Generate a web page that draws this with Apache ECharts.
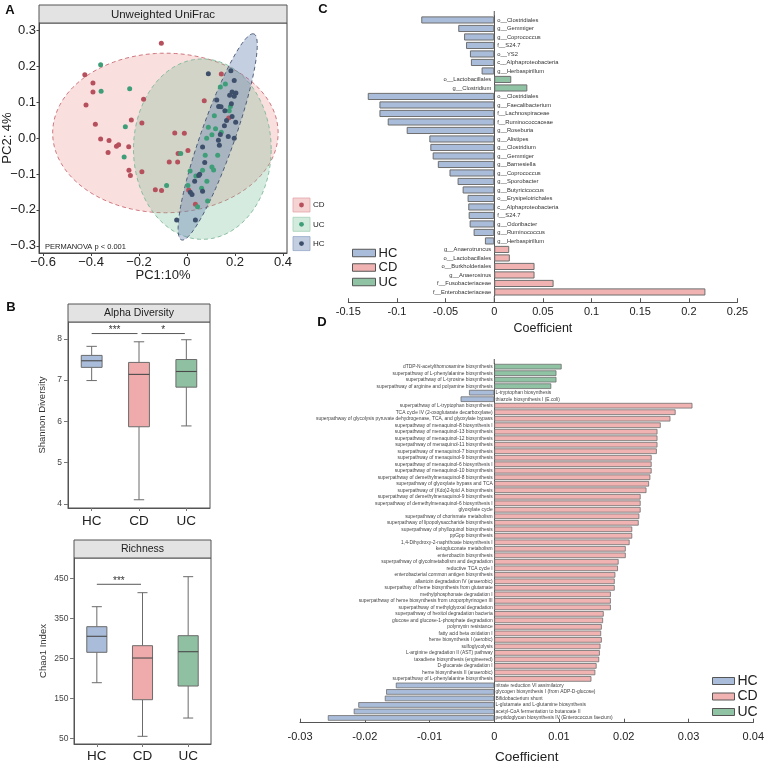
<!DOCTYPE html>
<html><head><meta charset="utf-8">
<script src="https://cdn.jsdelivr.net/npm/echarts@6/dist/echarts.min.js"></script>
<style>html,body{margin:0;padding:0;background:#fff}#c{width:767px;height:765px}</style>
</head><body><div id="c"></div>
<script>
// ================= DATA =================
// Panel A: PCoA (Unweighted UniFrac)
const groupsA = ['CD', 'UC', 'HC'];
const cdPoints = [[-0.107,0.264],[-0.426,0.176],[-0.392,0.153],[-0.392,0.128],[-0.421,0.092],[-0.181,0.108],[-0.382,0.038],[-0.232,0.05],[-0.188,0.042],[-0.36,-0.003],[-0.325,-0.007],[-0.294,-0.023],[-0.285,-0.019],[-0.243,-0.024],[-0.329,-0.04],[-0.242,-0.09],[-0.236,-0.104],[-0.188,-0.094],[-0.051,0.014],[-0.011,0.013],[-0.037,-0.043],[-0.074,-0.067],[-0.039,-0.067],[0.004,-0.035],[-0.132,-0.144],[-0.106,-0.146],[0.072,0.104],[0.143,0.178],[0.174,0.056],[0.007,-0.145],[0.035,-0.184]];
const ucPoints = [[-0.36,0.204],[-0.358,0.13],[-0.239,0.137],[-0.257,0.031],[-0.262,-0.053],[-0.085,-0.132],[-0.026,-0.043],[0.013,-0.092],[0.004,-0.132],[0.037,-0.106],[0.061,-0.14],[0.044,-0.191],[0.086,-0.175],[0.083,-0.12],[0.076,-0.048],[0.082,-0.001],[0.089,0.03],[0.114,0.062],[0.104,0.009],[0.128,-0.048],[0.104,-0.081],[0.111,-0.089],[0.119,0.026],[0.143,0.016],[0.135,0.088],[0.139,0.142],[0.16,0.15],[0.176,0.076],[0.181,0.088],[0.065,-0.09]];
const hcPoints = [[0.089,0.179],[0.183,0.187],[0.197,0.16],[0.188,0.128],[0.204,0.125],[0.197,0.116],[0.178,0.119],[0.124,0.106],[0.132,0.088],[0.142,0.087],[0.185,0.095],[0.158,0.076],[0.188,0.06],[0.165,0.049],[0.203,0.044],[0.156,0.034],[0.172,0.004],[0.197,-0.001],[0.139,0.01],[0.131,-0.006],[0.135,-0.02],[0.065,-0.025],[0.074,-0.068],[0.049,-0.104],[0.032,-0.12],[0.053,-0.101],[0.065,-0.148],[0.014,-0.151],[0.021,-0.157],[-0.043,-0.228],[0.035,-0.228]];
// confidence ellipses: [centerX, centerY, axis1X, axis1Y, axis2X, axis2Y]
const ellipseCD = [-0.09, 0.014, 0.47, 0, 0, 0.222];
const ellipseUC = [0.064, -0.031, 0.287, 0, 0, 0.251];
const ellipseHC = [0.128, 0.003, 0.147, 0.287, 0.075, 0];
const ticksAX = [-0.6, -0.4, -0.2, 0, 0.2, 0.4];
const ticksAY = [-0.3, -0.2, -0.1, 0, 0.1, 0.2, 0.3];

// Panel B: boxplots  [min, Q1, median, Q3, max]
const boxGroups = ['HC', 'CD', 'UC'];
const shannonBox = [[6.99,7.31,7.47,7.60,7.82],[4.10,5.87,7.14,7.43,7.93],[5.89,6.83,7.21,7.50,7.98]];
const chao1Box = [[190,266,306,330,380],[56,147.5,251.7,282.5,415],[101.7,181.7,267.5,307.5,455]];
const ticksShannon = [4, 5, 6, 7, 8];
const ticksChao1 = [50, 150, 250, 350, 450];
const sigShannon = [[0, 1, 8.13], [1, 2, 8.13]];
const sigShannonText = ['***', '*'];
const sigChao1 = [[0, 1, 436]];
const sigChao1Text = ['***'];

// Panel C: taxa coefficients
const taxaLabels = ['o__Clostridiales','g__Gemmiger','g__Coprococcus','f__S24.7','o__YS2','c__Alphaproteobacteria','g__Herbaspirillum','o__Lactobacillales','g__Clostridium','o__Clostridiales','g__Faecalibacterium','f__Lachnospiraceae','f__Ruminococcaceae','g__Roseburia','g__Alistipes','g__Clostridium','g__Gemmiger','g__Barnesiella','g__Coprococcus','g__Sporobacter','g__Butyricicoccus','o__Erysipelotrichales','c__Alphaproteobacteria','f__S24.7','g__Odoribacter','g__Ruminococcus','g__Herbaspirillum','g__Anaerotruncus','o__Lactobacillales','o__Burkholderiales','g__Anaerosinus','f__Fusobacteriaceae','f__Enterobacteriaceae'];
const taxaValues = [-0.075,-0.037,-0.031,-0.029,-0.025,-0.024,-0.013,0.0175,0.034,-0.13,-0.118,-0.118,-0.1095,-0.090,-0.0667,-0.0657,-0.0633,-0.058,-0.046,-0.0377,-0.0325,-0.0274,-0.0267,-0.0263,-0.0253,-0.0212,-0.0096,0.0154,0.016,0.0414,0.0414,0.061,0.217];
const taxaGroups = ['HC','HC','HC','HC','HC','HC','HC','UC','UC','HC','HC','HC','HC','HC','HC','HC','HC','HC','HC','HC','HC','HC','HC','HC','HC','HC','HC','CD','CD','CD','CD','CD','CD'];

// Panel D: pathway coefficients
const pathLabels = ['dTDP-N-acetylthomosamine biosynthesis','superpathway of L-phenylalanine biosynthesis','superpathway of L-tyrosine biosynthesis','superpathway of arginine and polyamine biosynthesis','L-tryptophan biosynthesis','thiazole biosynthesis I (E.coli)','superpathway of L-tryptophan biosynthesis','TCA cycle IV (2-oxoglutarate decarboxylase)','superpathway of glycolysis pyruvate dehydrogenase, TCA, and glyoxylate bypass','superpathway of menaquinol-8 biosynthesis I','superpathway of menaquinol-13 biosynthesis','superpathway of menaquinol-12 biosynthesis','superpathway of menaquinol-11 biosynthesis','superpathway of menaquinol-7 biosynthesis','superpathway of menaquinol-9 biosynthesis','superpathway of menaquinol-6 biosynthesis I','superpathway of menaquinol-10 biosynthesis','superpathway of demethylmenaquinol-8 biosynthesis','superpathway of glyoxylate bypass and TCA','superpathway of (Kdo)2-lipid A biosynthesis','superpathway of demethylmenaquinol-9 biosynthesis','superpathway of demethylmenaquinol-6 biosynthesis I','glyoxylate cycle','superpathway of chorismate metabolism','superpathway of lipopolysaccharide biosynthesis','superpathway of phylloquinol biosynthesis','ppGpp biosynthesis','1,4-Dihydroxy-2-naphthoate biosynthesis I','ketogluconate metabolism','enterobactin biosynthesis','superpathway of glycolmetabolism and degradation','reductive TCA cycle I','enterobacterial common antigen biosynthesis','allantoin degradation IV (anaerobic)','superpathay of heme biosynthesis from glutamate','methylphosphonate degradation I','superpathway of heme biosynthesis from uroporphyrinogen III','superpathway of methylglyoxal degradation','superpathway of hexitol degradation bacteria','glucose and glucose-1-phosphate degradation','polymyxin resistance','fatty acid beta oxidation I','heme biosynthesis I (aerobic)','sulfoglycolysis','L-arginine degradation II (AST) pathway','taxadiene biosynthesis (engineered)','D-glucarate degradation I','heme biosynthesis II (anaerobic)','superpathway of L-phenylalanine biosynthesis','nitrate reduction VI assimilatory','glycogen biosynthesis I (from ADP-D-glucose)','Bifidobacterium shunt','L-glutamate and L-glutamine biosynthesis','acetyl-CoA fermentation to butanoate II','peptidoglycan biosynthesis IV (Enterococcus faecium)'];
const pathValues = [0.0104,0.0096,0.0096,0.0088,-0.0039,-0.0052,0.0306,0.0280,0.0272,0.0257,0.0252,0.0252,0.0252,0.0251,0.0243,0.0243,0.0243,0.0241,0.0239,0.0235,0.0226,0.0226,0.0226,0.0224,0.0223,0.0213,0.0213,0.0209,0.0203,0.0203,0.0192,0.0191,0.0187,0.0186,0.0186,0.0180,0.0180,0.0180,0.0169,0.0168,0.0166,0.0165,0.0166,0.0164,0.0163,0.0162,0.0158,0.0156,0.0150,-0.0152,-0.0167,-0.0169,-0.0210,-0.0217,-0.0257];
const pathGroups = ['UC','UC','UC','UC','HC','HC'].concat(Array(43).fill('CD')).concat(['HC','HC','HC','HC','HC','HC']);
const legendGroups = ['HC', 'CD', 'UC'];

// ================= STYLES =================
const FONT = 'Liberation Sans, Arial, sans-serif';
const barColors = { HC: '#A9BCD9', CD: '#F1B2B2', UC: '#8FC3A4' };
const boxFill = ['#A9BCD9', '#EFABAB', '#8FC0A1'];
const ptColor = { CD: '#B5505C', UC: '#3E9E78', HC: '#3D4F6B' };
const ellFill = { CD: 'rgba(240,150,150,0.30)', UC: 'rgba(120,190,150,0.30)', HC: 'rgba(100,130,180,0.38)' };
const ellStroke = { CD: '#C86A70', UC: '#7DB898', HC: '#3F506E' };
const legFill = { CD: '#F6D3D3', UC: '#D2EBDD', HC: '#C3CFE0' };
const legStroke = { CD: '#E3A5A8', UC: '#A3D2B8', HC: '#93A6C6' };
const AX = '#444';

const chart = echarts.init(document.getElementById('c'), null, { renderer: 'canvas' });

function ellipseSeries(name, params) {
  return {
    type: 'custom', name: 'ell-' + name, xAxisIndex: 0, yAxisIndex: 0, silent: true, clip: false,
    encode: { x: 0, y: 1 }, data: [params],
    renderItem: (p, api) => {
      const cx = api.value(0), cy = api.value(1), ux = api.value(2), uy = api.value(3), vx = api.value(4), vy = api.value(5);
      const pts = [];
      for (let k = 0; k < 144; k++) {
        const t = k / 144 * 2 * Math.PI;
        pts.push(api.coord([cx + ux * Math.cos(t) + vx * Math.sin(t), cy + uy * Math.cos(t) + vy * Math.sin(t)]));
      }
      return { type: 'polygon', shape: { points: pts }, style: { fill: ellFill[name], stroke: ellStroke[name], lineWidth: 0.9, lineDash: [4, 3] } };
    }
  };
}
function scatterSeries(name, pts) {
  return { type: 'scatter', name: 'pt-' + name, xAxisIndex: 0, yAxisIndex: 0, data: pts, symbolSize: 5, silent: true,
    itemStyle: { color: ptColor[name], opacity: 1 } };
}
function boxSeries(axisIdx, stats) {
  return {
    type: 'custom', name: 'box' + axisIdx, xAxisIndex: axisIdx, yAxisIndex: axisIdx, silent: true,
    encode: { x: 0, y: [1, 2, 3, 4, 5] },
    data: stats.map((s, i) => [i].concat(s)),
    renderItem: (p, api) => {
      const i = api.value(0);
      const band = api.size([1, 0])[0];
      const x = api.coord([i, api.value(3)])[0];
      const y = k => api.coord([i, api.value(k)])[1];
      const yMin = y(1), yQ1 = y(2), yMed = y(3), yQ3 = y(4), yMax = y(5);
      const hw = band * 0.22, cw = band * 0.11;
      const ls = { stroke: '#6b6b6b', lineWidth: 1 };
      return { type: 'group', children: [
        { type: 'line', shape: { x1: x, y1: yMax, x2: x, y2: yQ3 }, style: ls },
        { type: 'line', shape: { x1: x, y1: yQ1, x2: x, y2: yMin }, style: ls },
        { type: 'line', shape: { x1: x - cw, y1: yMax, x2: x + cw, y2: yMax }, style: ls },
        { type: 'line', shape: { x1: x - cw, y1: yMin, x2: x + cw, y2: yMin }, style: ls },
        { type: 'rect', shape: { x: x - hw, y: yQ3, width: 2 * hw, height: yQ1 - yQ3 }, style: { fill: boxFill[i], stroke: '#6b6b6b', lineWidth: 1 } },
        { type: 'line', shape: { x1: x - hw, y1: yMed, x2: x + hw, y2: yMed }, style: { stroke: '#4a4a4a', lineWidth: 1.1 } }
      ] };
    }
  };
}
function sigSeries(axisIdx, sig, texts) {
  return {
    type: 'custom', name: 'sig' + axisIdx, xAxisIndex: axisIdx, yAxisIndex: axisIdx, silent: true, clip: false,
    encode: { x: [0, 1], y: 2 }, data: sig,
    renderItem: (p, api) => {
      const a = api.coord([api.value(0), api.value(2)]);
      const b = api.coord([api.value(1), api.value(2)]);
      const x1 = a[0] + (p.dataIndex > 0 ? 2.5 : 0), x2 = b[0] - 1.5;
      return { type: 'group', children: [
        { type: 'line', shape: { x1: x1, y1: a[1], x2: x2, y2: a[1] }, style: { stroke: '#444', lineWidth: 0.9 } },
        { type: 'text', style: { x: (x1 + x2) / 2, y: a[1] + 1.5, text: texts[p.dataIndex], align: 'center', verticalAlign: 'bottom', fontSize: 10, fontFamily: FONT, fill: '#333' } }
      ] };
    }
  };
}
function barSeries(name, values, groups, idx) {
  return {
    type: 'bar', name: name, xAxisIndex: idx, yAxisIndex: idx, stack: 'st' + idx, silent: true,
    barCategoryGap: idx === 3 ? '16%' : '14%',
    data: values.map((v, i) => groups[i] === name ? v : '-'),
    itemStyle: { color: barColors[name], borderColor: '#6e6e6e', borderWidth: idx === 3 ? 1 : 0.8 }
  };
}
function labelSeries(values, labels, idx, fontSize, padL, padR, color) {
  return {
    type: 'custom', name: 'lab' + idx, xAxisIndex: idx, yAxisIndex: idx, silent: true, clip: false,
    encode: { x: 0, y: 1 }, data: values.map((v, i) => [v, i]),
    renderItem: (p, api) => {
      const v = api.value(0);
      const c = api.coord([0, api.value(1)]);
      return { type: 'text', style: { x: c[0] + (v < 0 ? padL : -padR), y: c[1], text: labels[p.dataIndex],
        align: v < 0 ? 'left' : 'right', verticalAlign: 'middle', fontSize: fontSize, fontFamily: FONT, fill: color } };
    }
  };
}

const fmtMinus1 = v => (v < 0 ? '\u2212' : '') + Math.abs(v).toFixed(1);
const fmtMinusX = v => Math.abs(v) < 1e-9 ? '0' : (v < 0 ? '\u2212' : '') + Math.abs(v).toFixed(1);

function valueAxisBase(extra) {
  return Object.assign({
    type: 'value', splitLine: { show: false }, nameMoveOverlap: false,
    axisLine: { show: true, onZero: false, lineStyle: { color: AX, width: 1 } },
    axisTick: { show: true, lineStyle: { color: AX } },
    axisLabel: { fontFamily: FONT, color: '#222' },
    nameTextStyle: { fontFamily: FONT, color: '#222' }
  }, extra);
}

const option = {
  animation: false,
  backgroundColor: '#fff',
  textStyle: { fontFamily: FONT },
  grid: [
    { left: 39, top: 23, width: 248, height: 230, show: true, borderColor: AX, borderWidth: 1, backgroundColor: 'transparent', outerBoundsMode: 'none', containLabel: false },
    { left: 68, top: 322, width: 142, height: 186, show: true, borderColor: '#555', borderWidth: 1, outerBoundsMode: 'none', containLabel: false },
    { left: 74, top: 558, width: 137, height: 186, show: true, borderColor: '#555', borderWidth: 1, outerBoundsMode: 'none', containLabel: false },
    { left: 348.3, top: 15.7, width: 389.2, height: 280.5, show: false, outerBoundsMode: 'none', containLabel: false },
    { left: 300, top: 363.4, width: 453.3, height: 357.8, show: false, outerBoundsMode: 'none', containLabel: false }
  ],
  xAxis: [
    valueAxisBase({ gridIndex: 0, min: -0.617, max: 0.417, name: 'PC1:10%', nameLocation: 'middle', nameGap: 16,
      nameTextStyle: { fontFamily: FONT, fontSize: 13, color: '#222' },
      axisTick: { show: true, length: 3, lineStyle: { color: AX }, customValues: ticksAX },
      axisLabel: { fontFamily: FONT, fontSize: 13, color: '#222', margin: 3, customValues: ticksAX, formatter: fmtMinusX } }),
    { type: 'category', gridIndex: 1, data: boxGroups, boundaryGap: true,
      axisLine: { show: true, onZero: false, lineStyle: { color: '#555' } },
      axisTick: { show: true, alignWithLabel: true, length: 3, lineStyle: { color: '#777' } },
      axisLabel: { fontFamily: FONT, fontSize: 13.5, color: '#222', margin: 6 } },
    { type: 'category', gridIndex: 2, data: boxGroups, boundaryGap: true,
      axisLine: { show: true, onZero: false, lineStyle: { color: '#555' } },
      axisTick: { show: true, alignWithLabel: true, length: 3, lineStyle: { color: '#777' } },
      axisLabel: { fontFamily: FONT, fontSize: 13.5, color: '#222', margin: 5 } },
    valueAxisBase({ gridIndex: 3, min: -0.15, max: 0.25, interval: 0.05, offset: 6, name: 'Coefficient', nameLocation: 'middle', nameGap: 20,
      nameTextStyle: { fontFamily: FONT, fontSize: 12.5, color: '#222' },
      axisLine: { show: true, onZero: false, lineStyle: { color: '#555', width: 1 } },
      axisTick: { show: true, inside: true, length: 4, lineStyle: { color: '#555' } },
      axisLabel: { fontFamily: FONT, fontSize: 11, color: '#222', margin: 4 } }),
    valueAxisBase({ gridIndex: 4, min: -0.03, max: 0.04, interval: 0.01, offset: 1.5, name: 'Coefficient', nameLocation: 'middle', nameGap: 28,
      nameTextStyle: { fontFamily: FONT, fontSize: 13.5, color: '#222' },
      axisLine: { show: true, onZero: false, lineStyle: { color: '#555', width: 1 } },
      axisTick: { show: true, inside: true, length: 4, lineStyle: { color: '#555' } },
      axisLabel: { fontFamily: FONT, fontSize: 11, color: '#222', margin: 9 } })
  ],
  yAxis: [
    valueAxisBase({ gridIndex: 0, min: -0.32, max: 0.32, name: 'PC2: 4%', nameLocation: 'middle', nameGap: 25,
      nameTextStyle: { fontFamily: FONT, fontSize: 13, color: '#222' },
      axisTick: { show: true, length: 2.5, lineStyle: { color: AX }, customValues: ticksAY },
      axisLabel: { fontFamily: FONT, fontSize: 13, color: '#222', margin: 3, customValues: ticksAY, formatter: fmtMinus1 } }),
    valueAxisBase({ gridIndex: 1, min: 3.9, max: 8.41, name: 'Shannon Diversity', nameLocation: 'middle', nameGap: 21,
      nameTextStyle: { fontFamily: FONT, fontSize: 9.5, color: '#333' },
      axisLine: { show: true, onZero: false, lineStyle: { color: '#555' } },
      axisTick: { show: true, length: 4, lineStyle: { color: '#777' }, customValues: ticksShannon },
      axisLabel: { fontFamily: FONT, fontSize: 8.5, color: '#444', margin: 6, customValues: ticksShannon } }),
    valueAxisBase({ gridIndex: 2, min: 36.8, max: 501.7, name: 'Chao1 Index', nameLocation: 'middle', nameGap: 26,
      nameTextStyle: { fontFamily: FONT, fontSize: 9.5, color: '#333' },
      axisLine: { show: true, onZero: false, lineStyle: { color: '#555' } },
      axisTick: { show: true, length: 4, lineStyle: { color: '#777' }, customValues: ticksChao1 },
      axisLabel: { fontFamily: FONT, fontSize: 8.5, color: '#444', margin: 5.5, customValues: ticksChao1 } }),
    { type: 'category', gridIndex: 3, inverse: true, data: taxaLabels.map((_, i) => String(i)),
      axisLine: { show: true, onZero: true, lineStyle: { color: '#555', width: 1 } }, axisTick: { show: false }, axisLabel: { show: false } },
    { type: 'category', gridIndex: 4, inverse: true, data: pathLabels.map((_, i) => String(i)),
      axisLine: { show: true, onZero: true, lineStyle: { color: '#555', width: 1 } }, axisTick: { show: false }, axisLabel: { show: false } }
  ],
  legend: [
    { data: legendGroups, orient: 'vertical', left: 347, top: 241.5, itemWidth: 23, itemHeight: 7.5, itemGap: 1.5, selectedMode: false, icon: 'rect',
      itemStyle: { borderColor: '#555', borderWidth: 1 }, textStyle: { fontFamily: FONT, fontSize: 13, color: '#222', padding: [0, 0, 0, -2] } },
    { data: legendGroups, orient: 'vertical', left: 707, top: 669, itemWidth: 22, itemHeight: 7, itemGap: 1.5, selectedMode: false, icon: 'rect',
      itemStyle: { borderColor: '#555', borderWidth: 1 }, textStyle: { fontFamily: FONT, fontSize: 14, color: '#222', padding: [0, 0, 0, -2] } }
  ],
  series: [
    barSeries('HC', taxaValues, taxaGroups, 3),
    barSeries('CD', taxaValues, taxaGroups, 3),
    barSeries('UC', taxaValues, taxaGroups, 3),
    barSeries('HC', pathValues, pathGroups, 4),
    barSeries('CD', pathValues, pathGroups, 4),
    barSeries('UC', pathValues, pathGroups, 4),
    labelSeries(taxaValues, taxaLabels, 3, 5.8, 3, 3, '#333'),
    labelSeries(pathValues, pathLabels, 4, 4.9, 1.2, 1.6, '#444'),
    ellipseSeries('CD', ellipseCD),
    ellipseSeries('UC', ellipseUC),
    ellipseSeries('HC', ellipseHC),
    scatterSeries('CD', cdPoints),
    scatterSeries('UC', ucPoints),
    scatterSeries('HC', hcPoints),
    boxSeries(1, shannonBox),
    boxSeries(2, chao1Box),
    sigSeries(1, sigShannon, sigShannonText),
    sigSeries(2, sigChao1, sigChao1Text)
  ],
  graphic: []
};

// strips, panel letters, annotation text, panel A legend, zero-line extensions
const g = option.graphic;
function strip(x, y, w, h, text, fs) {
  g.push({ type: 'rect', shape: { x: x, y: y, width: w, height: h }, style: { fill: '#E3E3E3', stroke: '#555', lineWidth: 1 }, silent: true });
  g.push({ type: 'text', x: x + w / 2, y: y + h / 2 + 0.5, style: { text: text, align: 'center', verticalAlign: 'middle', fontSize: fs, fontFamily: FONT, fill: '#222' }, silent: true });
}
strip(39, 5, 248, 18, 'Unweighted UniFrac', 11.5);
strip(68, 304, 142, 18, 'Alpha Diversity', 10.5);
strip(74, 540, 137, 18, 'Richness', 10.5);
[['A', 10, 10], ['B', 11, 307], ['C', 323, 9], ['D', 322, 322]].forEach(([t, x, y]) => {
  g.push({ type: 'text', x: x, y: y, style: { text: t, align: 'center', verticalAlign: 'middle', fontSize: 13, fontWeight: 'bold', fontFamily: FONT, fill: '#111' }, silent: true });
});
g.push({ type: 'text', x: 45, y: 247, style: { text: 'PERMANOVA p < 0.001', align: 'left', verticalAlign: 'middle', fontSize: 7.5, fontFamily: FONT, fill: '#222' }, silent: true });
groupsA.forEach((name, i) => {
  const y = 198 + i * 19.3;
  g.push({ type: 'rect', shape: { x: 293, y: y, width: 17, height: 14 }, style: { fill: legFill[name], stroke: legStroke[name], lineWidth: 0.8 }, silent: true });
  g.push({ type: 'circle', shape: { cx: 301.5, cy: y + 7, r: 2.4 }, style: { fill: ptColor[name] }, silent: true });
  g.push({ type: 'text', x: 313, y: y + 7, style: { text: name, align: 'left', verticalAlign: 'middle', fontSize: 8, fontFamily: FONT, fill: '#222' }, silent: true });
});

chart.setOption(option);

// extend the zero lines of panels C and D a little above the first bar, as in the figure
const z3 = chart.convertToPixel({ xAxisIndex: 3 }, 0);
const z4 = chart.convertToPixel({ xAxisIndex: 4 }, 0);
chart.setOption({ graphic: g.concat([
  { type: 'line', shape: { x1: z3, y1: 11, x2: z3, y2: 16 }, style: { stroke: '#555', lineWidth: 1 }, silent: true },
  { type: 'line', shape: { x1: z3, y1: 296, x2: z3, y2: 302 }, style: { stroke: '#555', lineWidth: 1 }, silent: true },
  { type: 'line', shape: { x1: z4, y1: 359, x2: z4, y2: 364 }, style: { stroke: '#555', lineWidth: 1 }, silent: true }
]) });
</script>
</body></html>
